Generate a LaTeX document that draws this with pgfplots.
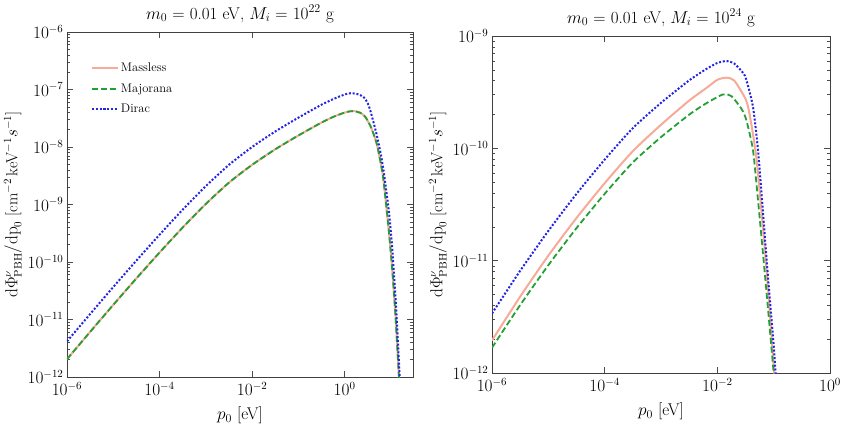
\documentclass[border=0pt]{standalone}
\usepackage{pgfplots}
\pgfplotsset{compat=1.18}
\definecolor{cSalmon}{RGB}{246,170,152}
\definecolor{cGreen}{RGB}{34,160,52}
\definecolor{cBlue}{RGB}{36,36,230}
\begin{document}
\begin{tikzpicture}
\path[use as bounding box] (0pt,0pt) rectangle (843pt,431pt);
% ---------------- left panel ----------------
\begin{axis}[scale only axis, xmode=log, ymode=log, anchor=south west,
  at={(67pt,54pt)}, width=346pt, height=345pt,
  tick align=inside, major tick length=6pt, minor tick length=3pt,
  every tick/.style={black!70, line width=0.6pt},
  axis line style={black!75, line width=0.8pt},
  xtick={1e-6,1e-4,1e-2,1}, minor xtick={},
  tick label style={font=\fontsize{16}{18}\selectfont},
  xticklabel style={yshift=-2pt},
  xlabel style={font=\fontsize{17}{19}\selectfont, yshift=-4pt},
  ylabel style={font=\fontsize{16}{18}\selectfont, yshift=-1pt},
  title style={font=\fontsize{17}{19}\selectfont},
  xlabel={$p_0$ [eV]},
  ylabel={$\mathrm{d}\Phi^{\nu}_{\mathrm{PBH}}/\mathrm{dp}_0$ [cm$^{-2}\,$keV$^{-1}s^{-1}$]},
  xmin=1e-6, xmax=30, ymin=1e-12, ymax=1e-6,
  title={$m_0$ = 0.01 eV, $M_i$ = $10^{22}$ g},
  legend style={at={(rel axis cs:0.06,0.922)}, anchor=north west, draw=none, fill=none,
    font=\fontsize{12.5}{14}\selectfont, row sep=6.5pt},
  legend cell align=left,
  legend image code/.code={\draw[#1] plot coordinates {(0pt,0pt) (13pt,0pt) (26pt,0pt)};},
]
\addlegendimage{cSalmon, line width=2pt}
\addlegendentry{Massless}
\addlegendimage{cGreen, line width=1.8pt, dash pattern=on 6pt off 3pt}
\addlegendentry{Majorana}
\addlegendimage{cBlue, line width=2pt, dash pattern=on 2pt off 1.8pt}
\addlegendentry{Dirac}
\addplot[forget plot, cSalmon, line width=2pt, smooth, tension=0.4] coordinates {
(1e-6,2.042e-12) (3.162e-6,6.095e-12) (1e-5,1.799e-11) (3.162e-5,5.188e-11)
(1e-4,1.462e-10) (3.162e-4,3.981e-10) (1e-3,1.023e-9) (3.162e-3,2.399e-9)
(1e-2,4.898e-9) (3.162e-2,9.120e-9) (0.1,1.585e-8) (0.3162,2.661e-8)
(0.631,3.467e-8) (1.122,4.074e-8) (1.585,4.217e-8) (2.239,3.890e-8)
(2.818,3.311e-8) (3.631,2.291e-8) (4.467,1.479e-8) (5.129,1.0e-8)
(6.607,3.467e-9) (7.762,1.122e-9) (9.120,3.162e-10) (10.72,7.079e-11)
(12.59,1.122e-11) (14.79,1.122e-12) (16.60,2.512e-13)};
\addplot[forget plot, cGreen, line width=1.8pt, dash pattern=on 6pt off 3pt, smooth, tension=0.4] coordinates {
(1e-6,2.042e-12) (3.162e-6,6.095e-12) (1e-5,1.799e-11) (3.162e-5,5.188e-11)
(1e-4,1.462e-10) (3.162e-4,3.981e-10) (1e-3,1.023e-9) (3.162e-3,2.399e-9)
(1e-2,4.898e-9) (3.162e-2,9.120e-9) (0.1,1.585e-8) (0.3162,2.661e-8)
(0.631,3.467e-8) (1.122,4.074e-8) (1.585,4.217e-8) (2.239,3.890e-8)
(2.818,3.311e-8) (3.631,2.291e-8) (4.467,1.479e-8) (5.129,1.0e-8)
(6.607,3.467e-9) (7.762,1.122e-9) (9.120,3.162e-10) (10.72,7.079e-11)
(12.59,1.122e-11) (14.79,1.122e-12) (16.60,2.512e-13)};
\addplot[forget plot, cBlue, line width=2pt, dash pattern=on 2pt off 1.8pt, smooth, tension=0.4] coordinates {
(1e-6,4.169e-12) (3.162e-6,1.245e-11) (1e-5,3.673e-11) (3.162e-5,1.059e-10)
(1e-4,2.985e-10) (3.162e-4,8.128e-10) (1e-3,2.089e-9) (3.162e-3,4.898e-9)
(1e-2,1.0e-8) (3.162e-2,1.862e-8) (0.1,3.236e-8) (0.3162,5.433e-8)
(0.631,7.079e-8) (1.230,8.590e-8) (1.995,8.222e-8) (2.630,7.244e-8)
(3.162,5.754e-8) (3.631,4.169e-8) (4.467,2.239e-8) (5.129,1.413e-8)
(6.026,7.586e-9) (7.079,3.467e-9) (9.120,7.079e-10) (10.72,1.698e-10)
(11.75,5.495e-11) (13.18,1.259e-11) (15.49,1e-12) (16.98,2.512e-13)};
\end{axis}
% ---------------- right panel ----------------
\begin{axis}[scale only axis, xmode=log, ymode=log, anchor=south west,
  at={(492pt,58pt)}, width=338pt, height=337pt,
  tick align=inside, major tick length=6pt, minor tick length=3pt,
  every tick/.style={black!70, line width=0.6pt},
  axis line style={black!75, line width=0.8pt},
  xtick={1e-6,1e-4,1e-2,1}, minor xtick={},
  tick label style={font=\fontsize{16}{18}\selectfont},
  xticklabel style={yshift=-2pt},
  xlabel style={font=\fontsize{17}{19}\selectfont, yshift=-4pt},
  ylabel style={font=\fontsize{16}{18}\selectfont, yshift=-1pt},
  title style={font=\fontsize{17}{19}\selectfont},
  xlabel={$p_0$ [eV]},
  ylabel={$\mathrm{d}\Phi^{\nu}_{\mathrm{PBH}}/\mathrm{dp}_0$ [cm$^{-2}\,$keV$^{-1}s^{-1}$]},
  xmin=1e-6, xmax=1, ymin=1e-12, ymax=1e-9,
  title={$m_0$ = 0.01 eV, $M_i$ = $10^{24}$ g},
]
\addplot[cSalmon, line width=2pt, smooth, tension=0.4] coordinates {
(1e-6,1.950e-12) (3.162e-6,4.786e-12) (1e-5,1.109e-11) (3.162e-5,2.399e-11)
(1e-4,4.898e-11) (3.162e-4,9.441e-11) (1e-3,1.622e-10) (3.162e-3,2.661e-10)
(6.310e-3,3.428e-10) (1e-2,4.074e-10) (1.445e-2,4.256e-10) (1.995e-2,4.018e-10)
(3.162e-2,2.754e-10) (3.715e-2,2.042e-10) (4.898e-2,8.511e-11) (6.310e-2,2.239e-11)
(7.943e-2,5.623e-12) (0.1023,1e-12) (0.1148,5.012e-13)};
\addplot[cGreen, line width=1.8pt, dash pattern=on 6pt off 3pt, smooth, tension=0.4] coordinates {
(1e-6,1.679e-12) (3.162e-6,4.027e-12) (1e-5,9.120e-12) (3.162e-5,1.950e-11)
(1e-4,3.936e-11) (3.162e-4,7.499e-11) (1e-3,1.259e-10) (3.162e-3,1.995e-10)
(6.310e-3,2.512e-10) (1.259e-2,3.020e-10) (1.778e-2,2.917e-10) (2.692e-2,2.239e-10)
(3.273e-2,1.782e-10) (4.295e-2,9.638e-11) (5.272e-2,3.467e-11) (6.310e-2,1.318e-11)
(7.943e-2,3.715e-12) (0.1,1e-12) (0.1122,5.012e-13)};
\addplot[cBlue, line width=2pt, dash pattern=on 2pt off 1.8pt, smooth, tension=0.4] coordinates {
(1e-6,3.388e-12) (3.162e-6,8.128e-12) (1e-5,1.841e-11) (3.162e-5,3.936e-11)
(1e-4,7.943e-11) (3.162e-4,1.514e-10) (1e-3,2.541e-10) (3.162e-3,4.027e-10)
(6.310e-3,5.070e-10) (1e-2,5.754e-10) (1.445e-2,5.984e-10) (1.995e-2,5.689e-10)
(2.884e-2,4.677e-10) (3.273e-2,4.074e-10) (4.295e-2,2.344e-10) (5.272e-2,9.638e-11)
(6.310e-2,3.162e-11) (7.943e-2,7.079e-12) (0.1,1.778e-12) (0.1096,8.913e-13)
(0.1202,5.012e-13)};
\end{axis}
\end{tikzpicture}
\end{document}
